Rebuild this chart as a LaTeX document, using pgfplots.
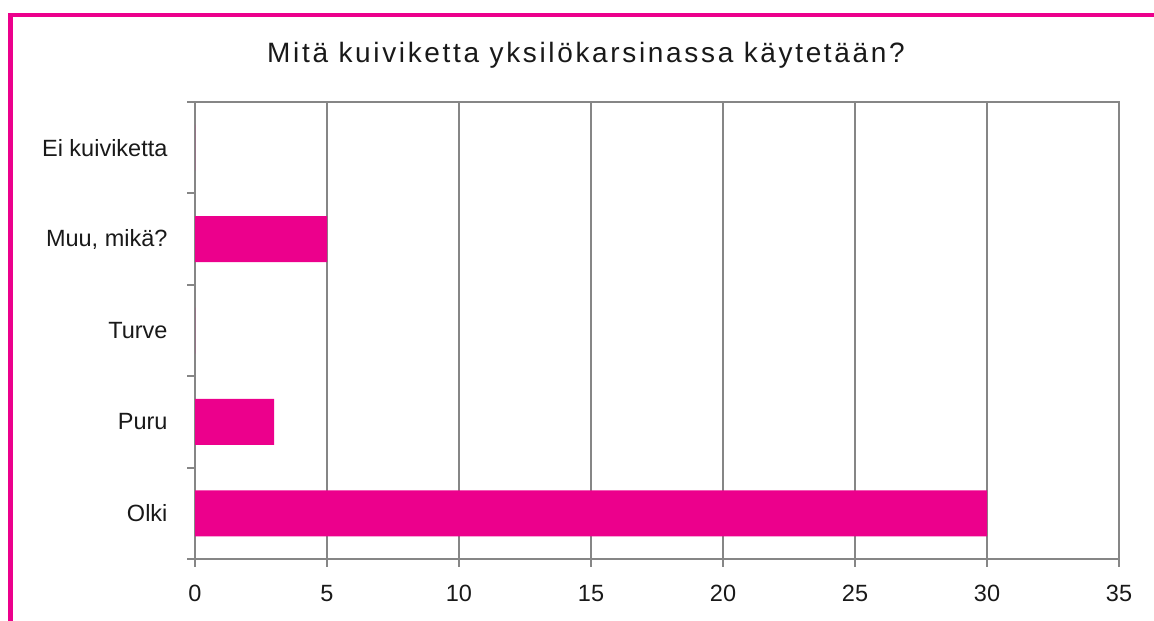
\documentclass[border=0pt]{standalone}
\usepackage{fontspec}
\setmainfont{Liberation Sans}
\newfontfamily\titlefont[LetterSpace=9.5]{Liberation Sans}
\usepackage{pgfplots}
\pgfplotsset{compat=1.18}
\definecolor{mag}{RGB}{236,0,140}
\definecolor{gr}{RGB}{134,134,134}
\begin{document}
\begin{tikzpicture}
\path[use as bounding box] (0pt,0pt) rectangle (1154pt,621pt);
\draw[mag, line width=4.5pt, line join=miter] (10.5pt,0pt) -- (10.5pt,606pt) -- (1154pt,606pt);
\node[font=\titlefont\fontsize{28}{32}\selectfont, text=black!90] at (586pt,566pt) {Mitä kuiviketta yksilökarsinassa käytetään?};
\begin{axis}[
  at={(195pt,62pt)}, anchor=south west,
  scale only axis, width=924pt, height=457pt,
  xbar, bar width=46pt,
  xmin=0, xmax=35, ymin=-0.5, ymax=4.5,
  xtick={0,5,...,35},
  ytick={-0.5,0.5,1.5,2.5,3.5,4.5}, yticklabels={},
  extra y ticks={0,1,2,3,4},
  extra y tick labels={Olki,Puru,Turve,{Muu, mikä?},Ei kuiviketta},
  extra y tick style={major tick length=0pt, ymajorgrids=false},
  xtick pos=lower, ytick pos=left,
  tick align=outside, major tick length=8pt,
  tick style={gr, line width=2pt},
  axis line style={gr, line width=2.2pt},
  xmajorgrids, grid style={gr, line width=1.6pt},
  ticklabel style={font=\fontsize{23.5}{28}\selectfont, text=black!90},
  xticklabel style={yshift=-15pt},
  yticklabel style={xshift=-24pt},
  /pgf/number format/assume math mode=true,
  clip=false,
]
\addplot[fill=mag, draw=none] coordinates {(30,0) (3,1) (0,2) (5,3) (0,4)};
\end{axis}
\end{tikzpicture}
\end{document}
